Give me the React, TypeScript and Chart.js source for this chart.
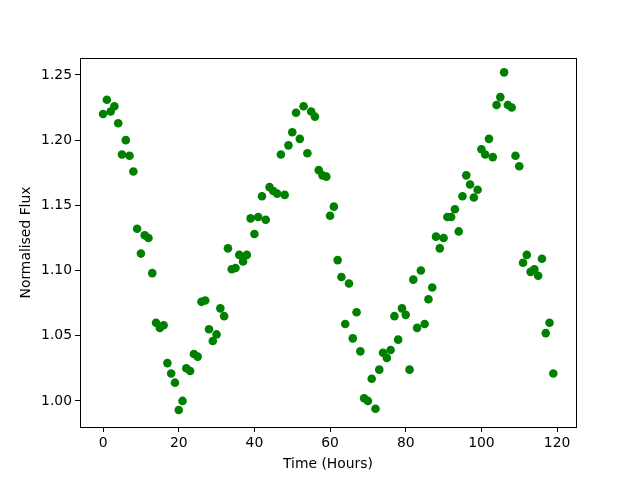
import React, { useEffect, useRef } from "react";
import { Chart, registerables } from "chart.js";

Chart.register(...registerables);

const hours = [
  0, 1, 2, 3, 4, 5, 6, 7, 8, 9, 10, 11, 12, 13, 14, 15, 16, 17, 18, 19,
  20, 21, 22, 23, 24, 25, 26, 27, 28, 29, 30, 31, 32, 33, 34, 35, 36, 37, 38, 39,
  40, 41, 42, 43, 44, 45, 46, 47, 48, 49, 50, 51, 52, 53, 54, 55, 56, 57, 58, 59,
  60, 61, 62, 63, 64, 65, 66, 67, 68, 69, 70, 71, 72, 73, 74, 75, 76, 77, 78, 79,
  80, 81, 82, 83, 84, 85, 86, 87, 88, 89, 90, 91, 92, 93, 94, 95, 96, 97, 98, 99,
  100, 101, 102, 103, 104, 105, 106, 107, 108, 109, 110, 111, 112, 113, 114, 115, 116, 117, 118, 119,
];

const flux = [
  1.220, 1.231, 1.222, 1.226, 1.213, 1.189, 1.200, 1.188, 1.176, 1.132,
  1.113, 1.127, 1.125, 1.098, 1.060, 1.056, 1.058, 1.029, 1.021, 1.014,
  0.993, 1.000, 1.025, 1.023, 1.036, 1.034, 1.076, 1.077, 1.055, 1.046,
  1.051, 1.071, 1.065, 1.117, 1.101, 1.102, 1.112, 1.107, 1.112, 1.140,
  1.128, 1.141, 1.157, 1.139, 1.164, 1.161, 1.159, 1.189, 1.158, 1.196,
  1.206, 1.221, 1.201, 1.226, 1.190, 1.222, 1.218, 1.177, 1.173, 1.172,
  1.142, 1.149, 1.108, 1.095, 1.059, 1.090, 1.048, 1.068, 1.038, 1.002,
  1.000, 1.017, 0.994, 1.024, 1.037, 1.033, 1.039, 1.065, 1.047, 1.071,
  1.066, 1.024, 1.093, 1.056, 1.100, 1.059, 1.078, 1.087, 1.126, 1.117,
  1.125, 1.141, 1.141, 1.147, 1.130, 1.157, 1.173, 1.166, 1.156, 1.162,
  1.193, 1.189, 1.201, 1.187, 1.227, 1.233, 1.252, 1.227, 1.225, 1.188,
  1.180, 1.106, 1.112, 1.099, 1.101, 1.096, 1.109, 1.052, 1.060, 1.021,
];

const xTicks = [0, 20, 40, 60, 80, 100, 120];
const yTicks = [1.0, 1.05, 1.1, 1.15, 1.2, 1.25];
const xLabel = "Time (Hours)";
const yLabel = "Normalised Flux";

const FONT = "'DejaVu Sans', sans-serif";

const boxPlugin = {
  id: "axesBox",
  afterDraw(chart: any) {
    const { ctx, chartArea } = chart;
    const { left, top, right, bottom } = chartArea;
    ctx.save();
    ctx.strokeStyle = "#000";
    ctx.lineWidth = 1;
    ctx.strokeRect(Math.round(left) + 0.5, Math.round(top) + 0.5, Math.round(right - left), Math.round(bottom - top));
    ctx.restore();
  },
};

export default function App() {
  const ref = useRef<HTMLCanvasElement | null>(null);

  useEffect(() => {
    if (!ref.current) return;
    const chart = new Chart(ref.current, {
      type: "scatter",
      data: {
        datasets: [
          {
            data: hours.map((h, i) => ({ x: h, y: flux[i] })),
            backgroundColor: "#008000",
            borderColor: "#008000",
            pointRadius: 4.3,
            pointBorderWidth: 0,
            pointHoverRadius: 4.3,
          },
        ],
      },
      options: {
        animation: false,
        responsive: false,
        events: [],
        layout: { padding: { left: 0, right: 64, top: 58, bottom: 0 } },
        plugins: { legend: { display: false }, tooltip: { enabled: false } },
        scales: {
          x: {
            type: "linear",
            min: -6.1,
            max: 125.0,
            afterBuildTicks: (scale: any) => {
              scale.ticks = xTicks.map((v) => ({ value: v }));
            },
            afterFit: (scale: any) => {
              scale.height = 53;
            },
            grid: {
              display: true,
              drawOnChartArea: false,
              drawTicks: true,
              tickLength: 5,
              color: "#000",
            },
            border: { display: true, color: "#000" },
            ticks: {
              autoSkip: false,
              maxRotation: 0,
              padding: 3,
              color: "#000",
              font: { family: FONT, size: 13.9 },
              callback: (v: any) => String(v),
            },
            title: {
              display: true,
              text: xLabel,
              color: "#000",
              font: { family: FONT, size: 13.9 },
              padding: { top: 0, bottom: 7 },
            },
          },
          y: {
            type: "linear",
            min: 0.98,
            max: 1.263,
            afterBuildTicks: (scale: any) => {
              scale.ticks = yTicks.map((v) => ({ value: v }));
            },
            afterFit: (scale: any) => {
              scale.width = 80;
            },
            grid: {
              display: true,
              drawOnChartArea: false,
              drawTicks: true,
              tickLength: 5,
              color: "#000",
            },
            border: { display: true, color: "#000" },
            ticks: {
              autoSkip: false,
              padding: 3,
              color: "#000",
              font: { family: FONT, size: 13.9 },
              callback: (v: any) => Number(v).toFixed(2),
            },
            title: {
              display: true,
              text: yLabel,
              color: "#000",
              font: { family: FONT, size: 13.9 },
              padding: { top: 18, bottom: 18 },
            },
          },
        },
      },
      plugins: [boxPlugin],
    });
    return () => chart.destroy();
  }, []);

  return (
    <div style={{ position: "fixed", left: 0, top: 0, width: 640, height: 480, background: "#fff" }}>
      <canvas ref={ref} width={640} height={480} style={{ display: "block", width: 640, height: 480 }} />
    </div>
  );
}
